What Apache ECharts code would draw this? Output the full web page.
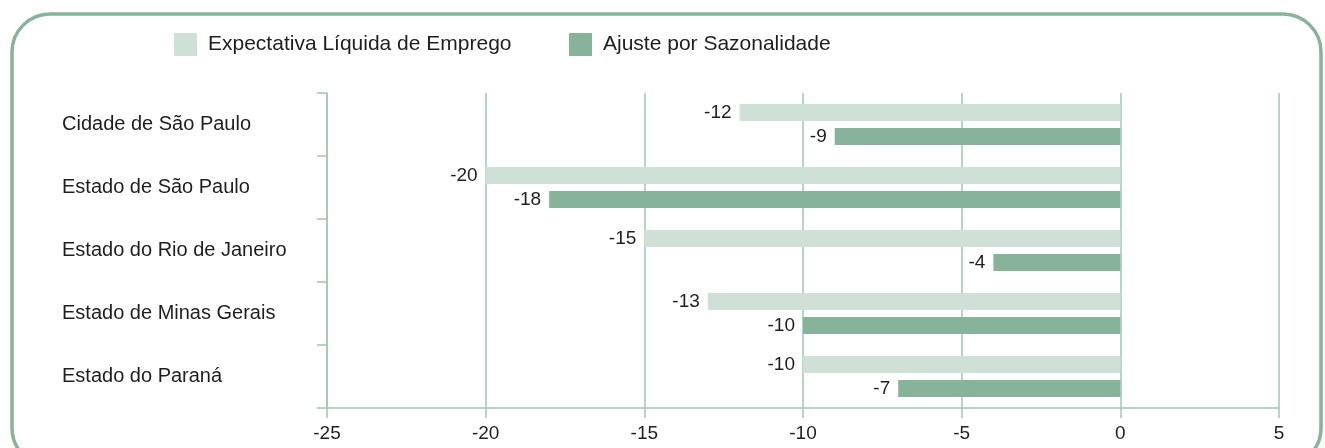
<!DOCTYPE html>
<html>
<head>
<meta charset="utf-8">
<script src="https://cdn.jsdelivr.net/npm/echarts@6/dist/echarts.min.js"></script>
<style>
  html, body { margin: 0; padding: 0; background: #fff; }
  #chart { width: 1325px; height: 448px; }
</style>
</head>
<body>
<div id="chart"></div>
<script>
// categories, top to bottom
const regions = [
  "Cidade de São Paulo",
  "Estado de São Paulo",
  "Estado do Rio de Janeiro",
  "Estado de Minas Gerais",
  "Estado do Paraná"
];
const seriesNames = ["Expectativa Líquida de Emprego", "Ajuste por Sazonalidade"];
const expectativa = [-12, -20, -15, -13, -10];
const ajuste = [-9, -18, -4, -10, -7];
const xTicks = { min: -25, max: 5, step: 5 };

const lightGreen = "#cfe1d7";
const darkGreen = "#86b39a";
const axisGreen = "#9fc7b2";
const textColor = "#1e1e1e";
const font = "Liberation Sans";

const chart = echarts.init(document.getElementById("chart"));

const labelStyle = {
  show: true,
  position: "left",
  distance: 8,
  color: textColor,
  fontFamily: font,
  fontSize: 19
};

const legendText = { fontSize: 21, color: textColor, fontFamily: font, padding: [0, 0, 0, 6] };

chart.setOption({
  animation: false,
  textStyle: { fontFamily: font, color: textColor },
  graphic: [{
    type: "rect",
    silent: true,
    shape: { x: 12, y: 14, width: 1309, height: 452, r: 38 },
    style: { fill: "none", stroke: darkGreen, lineWidth: 3.5 }
  }],
  legend: [
    {
      left: 174, top: 33, padding: 0,
      data: [seriesNames[0]],
      icon: "rect", itemWidth: 23, itemHeight: 23,
      textStyle: legendText
    },
    {
      left: 569, top: 33, padding: 0,
      data: [seriesNames[1]],
      icon: "rect", itemWidth: 23, itemHeight: 23,
      textStyle: legendText
    }
  ],
  grid: { left: 327, right: 46, top: 93, bottom: 40 },
  xAxis: {
    type: "value",
    min: xTicks.min,
    max: xTicks.max,
    interval: xTicks.step,
    axisLine: { show: true, lineStyle: { color: axisGreen, width: 1.5 } },
    axisTick: { show: true, length: 10, lineStyle: { color: axisGreen, width: 1.5 } },
    splitLine: { show: true, lineStyle: { color: axisGreen, width: 1.5 } },
    axisLabel: { color: textColor, fontSize: 19, fontFamily: font, margin: 16 }
  },
  yAxis: {
    type: "category",
    position: "left",
    inverse: true,
    data: regions,
    axisLine: { show: true, onZero: false, lineStyle: { color: axisGreen, width: 1.5 } },
    axisTick: { show: true, length: 10, lineStyle: { color: axisGreen, width: 1.5 } },
    axisLabel: {
      color: textColor, fontSize: 20, fontFamily: font,
      align: "left", margin: 265, padding: [12, 0, 0, 0]
    }
  },
  series: [
    {
      name: seriesNames[0],
      type: "bar",
      data: expectativa,
      barWidth: 17,
      barGap: "42%",
      itemStyle: { color: lightGreen },
      label: labelStyle
    },
    {
      name: seriesNames[1],
      type: "bar",
      data: ajuste,
      barWidth: 17,
      itemStyle: { color: darkGreen },
      label: labelStyle
    }
  ]
});
</script>
</body>
</html>
